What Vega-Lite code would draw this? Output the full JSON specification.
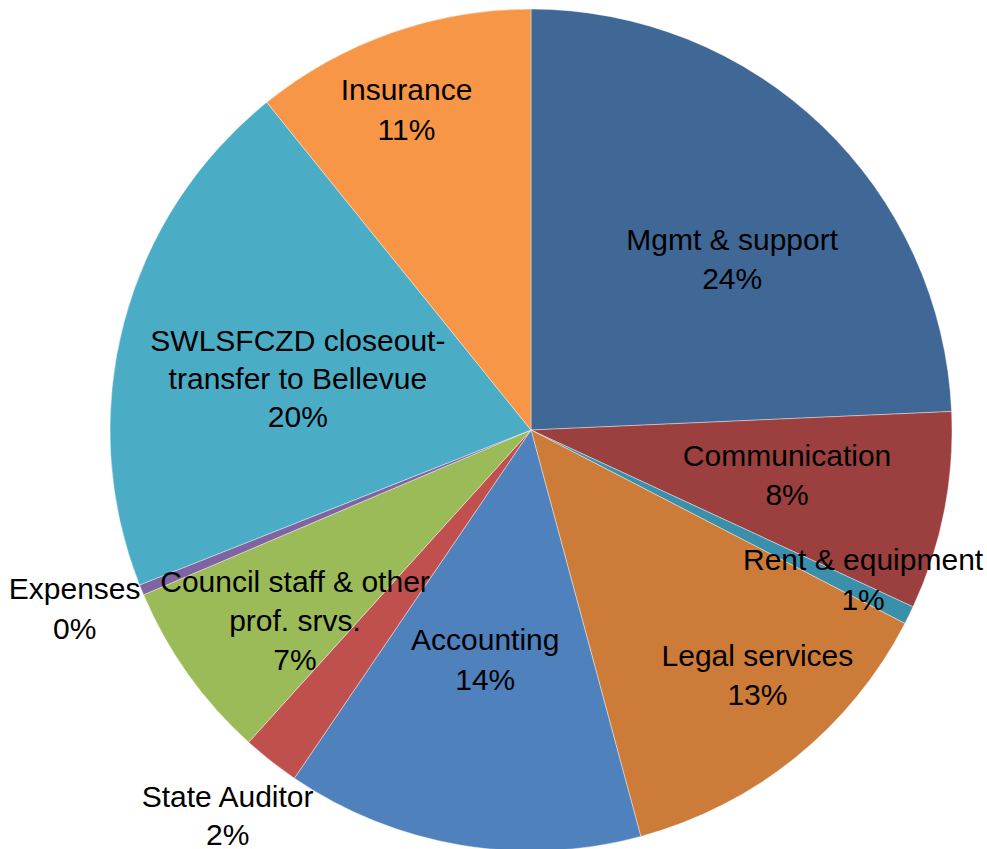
{
  "$schema": "https://vega.github.io/schema/vega-lite/v6.json",
  "width": 912,
  "height": 838,
  "autosize": {"type": "none"},
  "padding": {"left": 75, "top": 11, "right": 0, "bottom": 0},
  "background": "white",
  "config": {"view": {"stroke": null}},
  "data": {
    "values": [
      {"idx": 1, "category": "Mgmt & support", "value": 24.3, "label": "Mgmt & support\n24%"},
      {"idx": 2, "category": "Communication", "value": 7.6, "label": "Communication\n8%"},
      {"idx": 3, "category": "Rent & equipment", "value": 0.7, "label": "Rent & equipment\n1%"},
      {"idx": 4, "category": "Legal services", "value": 13.2, "label": "Legal services\n13%"},
      {"idx": 5, "category": "Accounting", "value": 13.7, "label": "Accounting\n14%"},
      {"idx": 6, "category": "State Auditor", "value": 2.2, "label": "State Auditor\n2%"},
      {"idx": 7, "category": "Council staff & other prof. srvs.", "value": 6.9, "label": "Council staff & other\nprof. srvs.\n7%"},
      {"idx": 8, "category": "Expenses", "value": 0.4, "label": "Expenses\n0%"},
      {"idx": 9, "category": "SWLSFCZD closeout-transfer to Bellevue", "value": 20.2, "label": "SWLSFCZD closeout-\ntransfer to Bellevue\n20%"},
      {"idx": 10, "category": "Insurance", "value": 10.8, "label": "Insurance\n11%"}
    ]
  },
  "encoding": {
    "theta": {"field": "value", "type": "quantitative", "stack": true},
    "order": {"field": "idx", "type": "quantitative"}
  },
  "layer": [
    {
      "mark": {"type": "arc", "outerRadius": 421, "stroke": "white", "strokeWidth": 0.4},
      "encoding": {
        "color": {
          "field": "category",
          "type": "nominal",
          "legend": null,
          "scale": {
            "domain": ["Mgmt & support", "Communication", "Rent & equipment", "Legal services", "Accounting", "State Auditor", "Council staff & other prof. srvs.", "Expenses", "SWLSFCZD closeout-transfer to Bellevue", "Insurance"],
            "range": ["#3F6897", "#9B403E", "#3A8FAA", "#CD7B38", "#4F81BD", "#C0504D", "#9BBB59", "#8064A2", "#4BACC6", "#F79646"]
          }
        }
      }
    },
    {
      "mark": {"type": "text", "radius": 262, "dx": 20, "dy": 0, "font": "Liberation Sans", "fontSize": 30, "lineBreak": "\n", "lineHeight": 39, "align": "center", "baseline": "middle", "color": "black"},
      "encoding": {"text": {"condition": {"test": "datum.category === 'Mgmt & support'", "field": "label"}, "value": ""}}
    },
    {
      "mark": {"type": "text", "radius": 261, "dx": 0, "dy": -24, "font": "Liberation Sans", "fontSize": 30, "lineBreak": "\n", "lineHeight": 39, "align": "center", "baseline": "middle", "color": "black"},
      "encoding": {"text": {"condition": {"test": "datum.category === 'Communication'", "field": "label"}, "value": ""}}
    },
    {
      "mark": {"type": "text", "radius": 362, "dx": 7, "dy": -28, "font": "Liberation Sans", "fontSize": 30, "lineBreak": "\n", "lineHeight": 40, "align": "center", "baseline": "middle", "color": "black"},
      "encoding": {"text": {"condition": {"test": "datum.category === 'Rent & equipment'", "field": "label"}, "value": ""}}
    },
    {
      "mark": {"type": "text", "radius": 332, "dx": 18, "dy": -31, "font": "Liberation Sans", "fontSize": 30, "lineBreak": "\n", "lineHeight": 39, "align": "center", "baseline": "middle", "color": "black"},
      "encoding": {"text": {"condition": {"test": "datum.category === 'Legal services'", "field": "label"}, "value": ""}}
    },
    {
      "mark": {"type": "text", "radius": 234, "dx": -7, "dy": -20, "font": "Liberation Sans", "fontSize": 30, "lineBreak": "\n", "lineHeight": 40, "align": "center", "baseline": "middle", "color": "black"},
      "encoding": {"text": {"condition": {"test": "datum.category === 'Accounting'", "field": "label"}, "value": ""}}
    },
    {
      "mark": {"type": "text", "radius": 491, "dx": 0, "dy": -18, "font": "Liberation Sans", "fontSize": 30, "lineBreak": "\n", "lineHeight": 38, "align": "center", "baseline": "middle", "color": "black"},
      "encoding": {"text": {"condition": {"test": "datum.category === 'State Auditor'", "field": "label"}, "value": ""}}
    },
    {
      "mark": {"type": "text", "radius": 302, "dx": 10, "dy": -22, "font": "Liberation Sans", "fontSize": 30, "lineBreak": "\n", "lineHeight": 39, "align": "center", "baseline": "middle", "color": "black"},
      "encoding": {"text": {"condition": {"test": "datum.category === 'Council staff & other prof. srvs.'", "field": "label"}, "value": ""}}
    },
    {
      "mark": {"type": "text", "radius": 489, "dx": -4, "dy": -26, "font": "Liberation Sans", "fontSize": 30, "lineBreak": "\n", "lineHeight": 40, "align": "center", "baseline": "middle", "color": "black"},
      "encoding": {"text": {"condition": {"test": "datum.category === 'Expenses'", "field": "label"}, "value": ""}}
    },
    {
      "mark": {"type": "text", "radius": 238, "dx": -3, "dy": -27, "font": "Liberation Sans", "fontSize": 30, "lineBreak": "\n", "lineHeight": 38, "align": "center", "baseline": "middle", "color": "black"},
      "encoding": {"text": {"condition": {"test": "datum.category === 'SWLSFCZD closeout-transfer to Bellevue'", "field": "label"}, "value": ""}}
    },
    {
      "mark": {"type": "text", "radius": 344, "dx": -10, "dy": -15, "font": "Liberation Sans", "fontSize": 30, "lineBreak": "\n", "lineHeight": 40, "align": "center", "baseline": "middle", "color": "black"},
      "encoding": {"text": {"condition": {"test": "datum.category === 'Insurance'", "field": "label"}, "value": ""}}
    }
  ]
}
